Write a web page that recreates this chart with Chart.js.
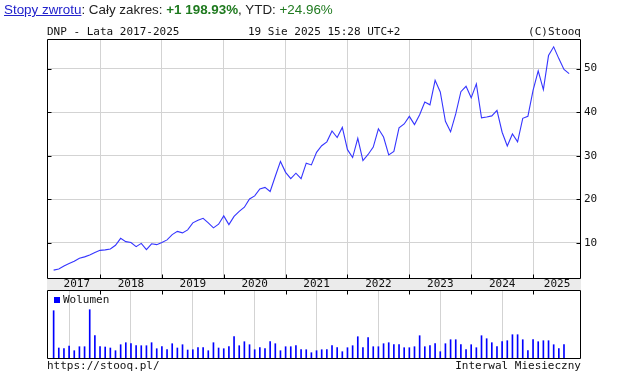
<!DOCTYPE html>
<html><head><meta charset="utf-8">
<script src="https://cdn.jsdelivr.net/npm/chart.js@4"></script>
<style>
html,body{margin:0;padding:0;background:#fff;width:619px;height:377px;overflow:hidden;position:relative}
#cA{position:absolute;left:0;top:0}
#cB{position:absolute;left:0;top:290px}
#hdr{position:absolute;left:4px;top:1px;font:13.4px "Liberation Sans",Arial,sans-serif;color:#222;white-space:nowrap;line-height:17px}
#hdr a{color:#2222cc;text-decoration:underline}
.g{color:#1f7a1f}
.mono{position:absolute;font:11px "DejaVu Sans Mono",monospace;color:#111;white-space:nowrap;line-height:13px}
</style></head><body>
<canvas id="cA" width="619" height="290"></canvas>
<canvas id="cB" width="619" height="70"></canvas>
<div id="hdr"><a>Stopy zwrotu</a>: Cały zakres: <b class="g">+1 198.93%</b>, YTD: <span class="g">+24.96%</span></div>
<div class="mono" style="left:47px;top:25px">DNP - Lata 2017-2025</div>
<div class="mono" style="left:248px;top:25px">19 Sie 2025 15:28 UTC+2</div>
<div class="mono" style="right:38px;top:25px">(C)Stooq</div>
<div class="mono" style="left:47px;top:359px">https://stooq.pl/</div>
<div class="mono" style="right:38px;top:359px">Interwal Miesieczny</div>
<div style="position:absolute;left:54px;top:297px;width:6px;height:6px;background:#0000ff"></div>
<div class="mono" style="left:63px;top:293px">Wolumen</div>
<script>
// ---- data ----
const START_YEAR = 2017, START_MONTH = 4; // first monthly bar: April 2017
const prices = [
  3.76,4.0,4.7,5.25,5.8,6.5,6.8,7.25,7.8,
  8.3,8.4,8.6,9.45,11.05,10.3,10.1,9.15,9.9,8.45,9.8,9.6,
  10.1,10.7,11.9,12.65,12.3,13.0,14.6,15.2,15.65,14.6,13.45,14.3,
  16.2,14.2,16.1,17.25,18.2,20.1,20.8,22.4,22.75,21.8,25.3,28.7,
  26.2,24.75,26.0,24.75,28.3,27.9,30.8,32.3,33.2,35.7,34.2,36.5,
  31.4,29.6,34.0,28.9,30.3,32.0,36.2,34.3,30.2,31.0,36.4,37.3,
  39.05,37.15,39.4,42.35,41.7,47.3,44.65,37.9,35.5,39.6,44.7,45.95,
  43.3,46.5,38.7,38.9,39.15,40.4,35.4,32.25,35.0,33.2,38.6,39.05,
  45.0,49.5,45.2,53.0,55.0,52.3,49.8,48.85
];
const volumes = [
  48.3,11,10.3,13,8.3,12.3,12.3,49.3,23.3,
  12.3,12,11,8.3,14.3,16.3,15.3,13.3,13.3,13.3,16.3,10.3,
  12.3,9.3,15.3,11,14.3,9,9.3,11.3,11.3,8.3,16.3,11,
  10.3,12.3,22.3,13.3,17.3,14.3,9.3,11.3,10.3,17.3,15.3,8.3,
  12.3,12.3,13.3,9.3,9.3,6.3,8.3,9.3,9.3,13.3,11.3,7.3,
  11.3,13.3,22.3,11.3,21.3,12.3,12.3,15.3,16.3,14.3,14.3,11.3,
  11.3,12.3,23.3,12.3,13.3,15.3,7.3,15.3,19.3,19.3,14.3,9.3,
  14.3,11.3,23.3,20.3,16.3,12.3,17.3,18.3,24.3,24.3,19.3,8.3,
  19.3,17.3,18.3,18.3,14.3,10.3,14.3,null
];
const yearLabels = ['2017','2018','2019','2020','2021','2022','2023','2024','2025'];
const priceTicks = [10,20,30,40,50];

// categories (months) and their index on the time axis (months since Jan 2017)
const months = prices.map((_, i) => {
  const t = (START_MONTH - 1) + i;
  return (START_YEAR + Math.floor(t / 12)) + '-' + String(t % 12 + 1).padStart(2, '0');
});
const mIdx = months.map(s => { const [y, m] = s.split('-').map(Number); return (y - 2017) * 12 + (m - 1); });

const X_MIN = 1.713, X_MAX = 105.3;
const boundaries = yearLabels.slice(1).map((_, k) => (k + 1) * 12);
const yearTicks = yearLabels.map((lab, k) => {
  const lo = Math.max(k * 12, mIdx[0]), hi = Math.min(k * 12 + 12, X_MAX);
  return { value: (lo + hi) / 2, lab };
});

const GRID = '#d3d3d3';
const MONO = { family: 'DejaVu Sans Mono', size: 11 };

const framePlugin = {
  id: 'frame',
  beforeDraw(chart, args, o) {
    if (!o.band) return;
    const c = chart.ctx, ca = chart.chartArea, xs = chart.scales.x;
    c.save(); c.fillStyle = '#ebebeb';
    c.fillRect(ca.left, ca.bottom, ca.right - ca.left, xs.bottom - ca.bottom);
    c.restore();
  },
  afterDraw(chart, args, o) {
    const c = chart.ctx, ca = chart.chartArea;
    const L = Math.round(ca.left) + 0.5, R = Math.round(ca.right) - 0.5;
    const T = Math.round(ca.top) + 0.5;
    const B = o.band ? Math.round(ca.bottom) + 0.5 : Math.round(ca.bottom) - 0.5;
    c.save(); c.strokeStyle = '#000'; c.lineWidth = 1;
    c.beginPath();
    c.moveTo(L, T); c.lineTo(R, T); c.lineTo(R, B); c.lineTo(L, B); c.closePath();
    const xs = chart.scales.x;
    boundaries.forEach(v => {
      const x = Math.round(xs.getPixelForValue(v)) + 0.5;
      if (o.band) { c.moveTo(x, B); c.lineTo(x, B - 4); }
      else { c.moveTo(x, T); c.lineTo(x, T + 4); }
    });
    if (o.band) {
      const ys = chart.scales.y;
      priceTicks.forEach(v => {
        const y = Math.round(ys.getPixelForValue(v)) + 0.5;
        c.moveTo(L, y); c.lineTo(L + 4, y);
        c.moveTo(R, y); c.lineTo(R - 4, y);
      });
    }
    c.stroke(); c.restore();
  }
};

const xGrid = {
  color: ctx => (ctx.tick && ctx.tick.b) ? GRID : 'rgba(0,0,0,0)',
  drawTicks: false, lineWidth: 1
};

new Chart(document.getElementById('cA'), {
  type: 'line',
  data: {
    labels: months,
    datasets: [{
      label: 'DNP',
      data: prices.map((v, i) => ({ x: mIdx[i], y: v })),
      borderColor: '#3535ff', borderWidth: 1.1, pointRadius: 0, tension: 0, fill: false
    }]
  },
  options: {
    responsive: false, animation: false, devicePixelRatio: 1,
    layout: { padding: { left: 47, top: 39, right: 0, bottom: 0 } },
    plugins: { legend: { display: false }, tooltip: { enabled: false }, frame: { band: true } },
    scales: {
      x: {
        type: 'linear', min: X_MIN, max: X_MAX, bounds: 'data',
        afterBuildTicks: s => {
          s.ticks = boundaries.map(v => ({ value: v, b: true }))
            .concat(yearTicks.map(t => ({ value: t.value, lab: t.lab })))
            .sort((a, b) => a.value - b.value);
        },
        afterFit: s => { s.height = 12; },
        grid: xGrid, border: { display: false },
        ticks: {
          autoSkip: false, maxRotation: 0, padding: 0, color: '#111', font: MONO,
          callback: (v, i, ticks) => ticks[i].lab || ''
        }
      },
      y: {
        type: 'linear', position: 'right', min: 1.95, max: 56.8, bounds: 'data',
        afterBuildTicks: s => { s.ticks = priceTicks.map(v => ({ value: v })); },
        afterFit: s => { s.width = 38; },
        grid: { color: GRID, drawTicks: false }, border: { display: false },
        ticks: { padding: 3, color: '#111', font: MONO }
      }
    }
  },
  plugins: [framePlugin]
});

new Chart(document.getElementById('cB'), {
  type: 'bar',
  data: {
    labels: months,
    datasets: [{
      label: 'Wolumen',
      data: volumes.map((v, i) => ({ x: mIdx[i], y: v })),
      backgroundColor: '#0000ff', barThickness: 1, borderWidth: 0
    }]
  },
  options: {
    responsive: false, animation: false, devicePixelRatio: 1,
    layout: { padding: { left: 47, top: 0, right: 38, bottom: 1 } },
    plugins: { legend: { display: false }, tooltip: { enabled: false }, frame: { band: false } },
    scales: {
      x: {
        type: 'linear', min: X_MIN, max: X_MAX, bounds: 'data', offset: false,
        afterBuildTicks: s => { s.ticks = boundaries.map(v => ({ value: v, b: true })); },
        afterFit: s => { s.height = 0; },
        grid: xGrid, border: { display: false },
        ticks: { display: false }
      },
      y: { display: false, min: 0, max: 69 }
    }
  },
  plugins: [framePlugin]
});
</script>
</body></html>
